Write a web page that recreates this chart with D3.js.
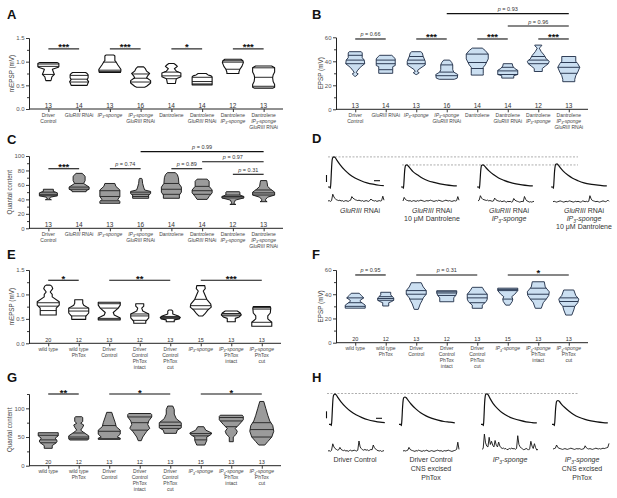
<!DOCTYPE html>
<html><head><meta charset="utf-8">
<script src="https://cdn.jsdelivr.net/npm/d3@7"></script>
<style>body{margin:0;background:#fff}svg{display:block}</style>
</head><body><svg id="c" width="617" height="498"></svg>
<script>
// ---------------- DATA ----------------
const topCats = [["Driver","Control"],["<i>GluRIII</i> RNAi"],["<i>IP<sub>3</sub>-sponge</i>"],["<i>IP<sub>3</sub>-sponge</i>","<i>GluRIII</i> RNAi"],["Dantrolene"],["Dantrolene","<i>GluRIII</i> RNAi"],["Dantrolene","<i>IP<sub>3</sub>-sponge</i>"],["Dantrolene","<i>IP<sub>3</sub>-sponge</i>","<i>GluRIII</i> RNAi"]];
const bottomCats = [["wild type"],["wild type","PhTox"],["Driver","Control"],["Driver","Control","PhTox","intact"],["Driver","Control","PhTox","cut"],["<i>IP<sub>3</sub>-sponge</i>"],["<i>IP<sub>3</sub>-sponge</i>","PhTox","intact"],["<i>IP<sub>3</sub>-sponge</i>","PhTox","cut"]];
const topCounts = [13,14,13,16,14,14,12,13];
const bottomCounts = [20,12,13,12,13,15,13,13];

// violin profiles: [value, relative half-width]
const aProfiles = [
 [[0.60,2.5],[0.63,3],[0.68,3.5],[0.73,6],[0.78,5],[0.84,4],[0.88,10],[0.90,10.5],[0.96,10.5],[0.98,9]],
 [[0.50,8],[0.53,8.5],[0.58,9.5],[0.62,8],[0.66,9],[0.72,9],[0.75,8],[0.77,6.5]],
 [[0.77,10.5],[0.80,11],[0.84,11],[0.93,8],[1.00,6],[1.02,5],[1.12,5],[1.14,4]],
 [[0.46,4],[0.48,6],[0.55,10],[0.60,10],[0.66,6],[0.70,7],[0.75,9],[0.80,6],[0.86,4.5],[0.89,3]],
 [[0.54,4],[0.60,4.5],[0.64,5],[0.68,9.5],[0.76,9.5],[0.80,5],[0.85,3],[0.90,6],[0.94,4],[0.96,2.5]],
 [[0.51,10],[0.53,10],[0.60,10],[0.68,10],[0.70,9],[0.72,6],[0.75,4]],
 [[0.75,6],[0.78,6],[0.84,7],[0.90,9],[0.98,10.5],[1.02,10],[1.05,8]],
 [[0.44,9],[0.46,11],[0.52,11],[0.58,9.5],[0.66,9],[0.72,9.5],[0.78,11],[0.87,11],[0.91,8]]
];
const aQuartiles = [[0.73,0.90,0.95],[0.57,0.63,0.71],[0.79,0.82,0.99],[0.57,0.65,0.74],[0.64,0.70,0.78],[0.53,0.58,0.67],[0.84,0.99,1.02],[0.48,0.67,0.87]];
const aSig = [[0,1,"***",1.27],[2,3,"***",1.27],[4,5,"*",1.27],[6,7,"***",1.27]];

const bProfiles = [
 [[27.5,0.5],[29.5,3],[30.5,1],[32,2],[35,5],[38,9.5],[41,9],[43,7],[47,7],[48,6]],
 [[30,7],[33,7],[35.5,7],[36.5,9.5],[42,9.5],[44,7.5],[45,6]],
 [[29,0.5],[30.5,3],[31.5,1],[33,2],[37,9],[40,9],[44,7],[47,6],[48,4.5]],
 [[25,7.5],[26,10.5],[29,11],[31,7],[33,6],[37,6],[39,5],[41,3]],
 [[28.5,6],[30,6],[35,6],[37,8],[42,11],[46,11],[49,8],[51,5]],
 [[26,6],[28,6],[29,10],[32.5,10],[34,7],[36,5],[38,4.5]],
 [[31.5,4],[34,4],[36,7],[38,10],[40,11],[42,8],[45,6],[48,3],[51,1],[53,3.5],[53.5,3.5]],
 [[23,6],[25,6],[28,7],[31,9],[35,11],[38,9],[40,7],[44,7]]
];
const bQuartiles = [[38,41,45],[33,38,41],[38,41,44],[28,31,37],[34,39,46],[29,32,35],[38,41,44],[30,35,39]];
const bSig = [[0,1,"p = 0.66",58.6],[2,3,"***",58.6],[4,5,"***",58.6],[6,7,"***",58.6],[5,7,"p = 0.96",69.4],[3,7,"p = 0.93",79.7]];

const cProfiles = [
 [[39.5,3],[41,1],[43,2],[45,9],[49,9],[51,5],[54,5]],
 [[50.6,7],[52,7],[54,10],[57,10],[62,4.5],[66,6],[72,6],[76,3]],
 [[34.6,10],[37,10],[40,8],[44,10],[53,10],[58,6],[62,5]],
 [[41.5,8],[46,8],[48,10],[51,10],[53,4],[57,3],[62,2],[68,1.5],[69,1]],
 [[41.5,8],[46,8],[50,10],[57,10],[62,7.5],[70,7],[74,6],[77,4]],
 [[40,5],[44,7],[49,10],[53,10],[58,7],[65,7],[68,5]],
 [[33,3],[34,1],[36,1.5],[39,2.5],[42,11],[44,11],[46,7],[50,7],[50.6,6.5]],
 [[36.8,3.5],[38,2],[40,2],[43,4],[46,11],[50,11],[54,7],[58,4],[63,3.5],[66,3]]
];
const cQuartiles = [[45,47,50],[54,57,62],[38,44,52],[44,47,50],[47,54,62],[47,52,58],[42,44,46],[46,49,53]];
const cSig = [[0,1,"***",82.4],[2,3,"p = 0.74",82.4],[4,5,"p = 0.89",82.4],[6,7,"p = 0.31",74.7],[5,7,"p = 0.97",92],[3,7,"p = 0.99",106]];

const eProfiles = [
 [[0.58,8],[0.60,8],[0.72,8],[0.78,11],[0.85,11],[0.95,4],[1.00,4],[1.05,2],[1.12,4.5],[1.17,3.5],[1.19,2]],
 [[0.49,7],[0.55,7],[0.62,10],[0.72,10],[0.78,5],[0.82,4],[0.89,4]],
 [[0.48,11],[0.52,11],[0.58,5],[0.63,4],[0.72,9],[0.78,11],[0.84,11]],
 [[0.41,6],[0.45,6],[0.52,9],[0.60,9],[0.66,3],[0.72,2],[0.76,4],[0.81,4]],
 [[0.44,4],[0.48,4],[0.50,9],[0.53,10],[0.56,8],[0.60,2.5],[0.66,2.5],[0.68,1.5]],
 [[0.56,2],[0.60,4],[0.68,7],[0.74,10.5],[0.80,10],[0.90,6],[1.00,4],[1.07,2.5],[1.12,4.5],[1.18,4]],
 [[0.44,4],[0.51,4],[0.54,8],[0.58,10],[0.62,9],[0.66,6]],
 [[0.35,10],[0.43,10],[0.50,6],[0.56,6],[0.62,8.5],[0.72,9],[0.75,8.5]]
];
const eQuartiles = [[0.67,0.76,0.83],[0.56,0.66,0.72],[0.51,0.72,0.81],[0.47,0.56,0.60],[0.51,0.53,0.55],[0.70,0.77,0.90],[0.56,0.58,0.61],[0.43,0.70,0.73]];
const eSig = [[0,1,"*",1.29],[2,4,"**",1.29],[5,7,"***",1.29]];

const fProfiles = [
 [[28.5,10],[31,10],[34,5],[35,5],[37,8.5],[39,6],[40.8,4]],
 [[30.3,3],[33,3],[34,6],[35,8],[37,8],[38.5,6],[39.5,5],[41.6,5]],
 [[27.5,2],[32,4],[35,6],[37,7],[40,10],[43,10],[46,7],[49.5,5]],
 [[33.8,7],[37,7],[39,9],[41,10],[42.9,10]],
 [[28.4,5],[31,5],[34,9],[36,10],[40,10],[43,7],[45.7,5]],
 [[31,2],[34,4.5],[36,5],[38,4],[40,7],[43,10],[45,10]],
 [[28.4,3],[33,5],[36,8],[39,10.5],[42,11],[46,7],[50.3,6]],
 [[22.8,3],[27,5],[30,6],[33,9],[36,10],[39,7],[43.5,5]]
];
const fQuartiles = [[30,33,37],[35,36.5,38],[36,40,43],[39,41,42],[33,37,40],[36,43,44],[36,40,45],[30,34,37]];
const fSig = [[0,1,"p = 0.95",55.9],[2,4,"p = 0.31",55.9],[5,7,"*",55.9]];

const gProfiles = [
 [[30.3,4],[35,4],[40,8],[43,9],[48,7],[52,10],[57.5,10]],
 [[44.8,9],[47,10],[52,10],[58,5],[62,2],[67,4],[71,5],[74,2],[77,4],[84,4],[85.4,3]],
 [[46,11],[48,11],[50,8],[55,11],[62,11],[68,7],[75,6],[85,4],[93,2.5]],
 [[43.6,1.5],[50,3],[60,7],[65,10],[72,8],[78,9],[85,12],[89,12],[91,11]],
 [[56.4,6],[62,7],[66,11],[75,11],[82,6],[90,4],[98,4],[104,2.5]],
 [[36,4],[44,6],[50,6],[54,10],[57,11],[62,5],[68,3]],
 [[41.8,2],[50,2],[55,5],[60,6],[65,4],[72,8],[80,12],[86,12],[88,11]],
 [[36,3],[42,6],[50,10],[60,12],[70,11],[78,8],[88,6],[100,4],[112,2]]
];
const gQuartiles = [[40,45,53],[47,50,57],[47,60,70],[62,75,85],[65,70,76],[45,52,56],[68,78,84],[50,63,75]];
const gSig = [[0,1,"**",125],[2,4,"*",125],[5,7,"*",125]];

// traces (EPSP in mV vs time in ms)
const epspTimes = [0,3,4,5,6,7,8,10,12,15,20,28,36,45,55,65,75,85,93];
const dEpsp = [
 [0,0,-2,10,28,39,42,43,42,38,32,24,18,13,9,6,4,2.5,2],
 [0,0,-2,8,22,29,31,31.5,30,27,22,17,12.5,9,6.5,4.5,3,2,1.5],
 [0,0,-2,8,21,29,31,31.5,30.5,27.5,23,17.5,13,9.5,6.5,4.5,3,2,1.5],
 [0,0,-2,9,23,30,32.5,33,31.5,28,23,17,12.5,9,6,4,3,2,1.5]
];
const hEpsp = [
 [0,0,-2,10,28,39,42,43,42,38,32,24.5,18.5,13.5,9.5,6.5,4.5,3,2.5],
 [0,0,-2,9,25,35,38,39,38,34.5,29,22,16.5,12,8.5,6,4,3,2],
 [0,0,-2,11,30,40,43,43.5,42,37,30,22,16,11.5,8,5.5,3.5,2.5,2],
 [0,0,-2,8,22,30,33,34,33,29.5,25,19,14,10,7,5,3.5,2.5,2]
];
const dLevels = [43, 31.5];
const hLevels = [44];
// spontaneous minis (mV, 48 samples each)
const dMinis = [
 [0,0.05,-0.05,0.05,0.85,0.5,0.3,0.15,0.1,0.05,0.1,0,0.05,-0.05,0,0.05,0,-0.05,0.05,0.1,0.55,0.35,0.25,0.15,0.1,0.05,0.1,0.05,0,0.05,-0.05,0,0.05,0,-0.05,0.05,0.25,0.1,0.05,0,0.05,-0.05,0,0.05,0,0.05,0.6,0.1],
 [0,0.45,0.2,0.1,0.05,0,0.05,-0.05,0,0.05,0,-0.05,0.05,0,0.05,0.1,0.05,0,-0.05,0,0.05,0,0.05,0.1,0.05,0,-0.05,0,0.05,0,0.1,0.05,0,-0.05,0,0.05,0.1,0.05,0,0.05,0,-0.05,0,0.05,0,0.05,0.55,0.1],
 [0.1,0.2,0.75,0.45,0.3,0.25,0.2,0.15,0.2,0.1,0.15,0.1,0.05,0.1,0.45,0.25,0.15,0.1,0.05,0.1,0,0.05,0.1,0,-0.05,0.05,0,0.05,-0.05,0,0.4,0.2,0.1,0.05,0,-0.05,0,0.05,0,0.65,0.3,0.1,0.05,-0.05,0,-0.05,0,0.05],
 [0,0.05,0,-0.05,0,0.05,0.1,0.05,0,-0.05,0,0.05,0,0.05,0.1,0.05,0,-0.05,0,0.05,0,0.05,0,-0.05,0,0.1,0.05,0,0.05,0,0.05,0.75,0.35,0.15,0.1,0.05,0,0.05,0,-0.05,0,0.05,0.1,0.05,0,0.05,0.2,0.05]
];
const hMinis = [
 [0,0.05,-0.05,0.1,0.9,0.5,0.3,0.2,0.1,0.15,0.45,0.2,0.1,0.05,0.1,0,0.05,-0.05,0.05,0.1,0,0.05,0.1,0.05,0,0.1,1.25,0.5,0.3,0.15,0.1,0.2,0.1,0.15,0.05,0.1,0.2,0.15,0.75,0.4,0.25,0.1,0.05,0,0.05,-0.05,0,0.05],
 [0,0.05,0,0.05,0.1,0.45,0.2,0.1,0.05,0,-0.05,0.05,0,0.1,0.05,0,-0.05,0.05,0,0.05,0.1,0,-0.05,0,0.05,0,-0.05,0,0.05,0.1,0.05,0,0.05,-0.05,0,0.05,0,0.05,0.1,0.05,0,-0.05,0,0.05,0.1,0.2,1.1,0.2],
 [0,0.1,1.9,0.8,0.4,0.3,1.5,0.6,1.0,0.5,0.3,1.1,0.5,0.3,0.9,0.4,0.2,0.1,0.15,0.05,0.1,-0.05,0,0.1,0.05,0.15,0.05,0.1,0,0.1,1.7,0.6,0.3,0.15,0.05,-0.05,0,0.1,0.05,-0.1,0.05,1.0,0.4,0.1,0.7,0.2,-0.1,0],
 [0,0.05,0.1,0.5,0.2,0.1,0.05,0,-0.05,0,0.05,0,-0.05,0,0.05,0.1,0.05,0,-0.05,0,0.05,0,0.05,0,-0.05,0,0.05,0.4,0.15,0.05,0,0.05,0,-0.05,0,0.05,0.1,0.05,0,0.05,0,0.05,0.1,0.05,0.1,0.15,0.2,0.7]
];
const dLabels = [["<i>GluRIII</i> RNAi"],["<i>GluRIII</i> RNAi","10 μM Dantrolene"],["<i>GluRIII</i> RNAi","<i>IP<sub>3</sub>-sponge</i>"],["<i>GluRIII</i> RNAi","<i>IP<sub>3</sub>-sponge</i>","10 μM Dantrolene"]];
const hLabels = [["Driver Control"],["Driver Control","CNS excised","PhTox"],["<i>IP<sub>3</sub>-sponge</i>"],["<i>IP<sub>3</sub>-sponge</i>","CNS excised","PhTox"]];

// ---------------- DRAWING ----------------
const FONT = "'Liberation Sans', Arial, Helvetica, sans-serif";
const svg = d3.select('#c').style('font-family', FONT);

function rich(sel, str, fs){
  const parts = str.split(/(<\/?i>|<\/?sub>)/);
  let it=false, sub=false, shifted=false;
  parts.forEach(p=>{
    if(p==='<i>'){it=true;return;} if(p==='</i>'){it=false;return;}
    if(p==='<sub>'){sub=true;return;} if(p==='</sub>'){sub=false;return;}
    if(!p) return;
    const t = sel.append('tspan').text(p);
    if(it) t.attr('font-style','italic');
    if(sub){ t.attr('font-size', fs*0.7).attr('dy', fs*0.3); shifted=true; }
    else if(shifted){ t.attr('dy', -fs*0.3); shifted=false; }
  });
}

function letter(t, x, y){
  svg.append('text').attr('x',x).attr('y',y).text(t)
    .attr('font-size',13).attr('font-weight','bold').attr('fill','#111');
}

function violinPanel(o){
  const g = svg.append('g');
  const n = o.profiles.length;
  const x = d3.scalePoint().domain(d3.range(n)).range([o.L,o.R]).padding(0.63);
  const y = d3.scaleLinear().domain(o.domain).range([o.B,o.T]);
  const w = d3.scaleLinear().domain([0,12]).range([0,12]);

  // axes
  const ya = d3.axisLeft(y).tickValues(o.ticks).tickFormat(o.fmt).tickSize(3).tickSizeOuter(0).tickPadding(1.5);
  const yg = g.append('g').attr('transform',`translate(${o.L},0)`).call(ya);
  const ym = g.append('g').attr('transform',`translate(${o.L},0)`).call(d3.axisLeft(y).tickValues(o.minor).tickFormat('').tickSize(2).tickSizeOuter(0));
  const xg = g.append('g').attr('transform',`translate(0,${o.B})`).call(d3.axisBottom(x).tickFormat('').tickSize(3).tickSizeOuter(0));
  [yg,ym,xg].forEach(a=>{ a.selectAll('path,line').attr('stroke','#222').attr('stroke-width',0.9); a.select('.domain').attr('stroke-width',1); });
  yg.selectAll('text').attr('font-size',6).attr('fill','#555').attr('font-family',FONT);
  xg.select('.domain').attr('d',`M${o.L},0H${o.R}`);

  // y label
  g.append('text').attr('transform',`translate(${o.ylx},${(o.T+o.B)/2}) rotate(-90)`)
    .attr('text-anchor','middle').attr('font-size',6.3).attr('fill','#444').text(o.ylabel);

  // violins
  o.profiles.forEach((prof,i)=>{
    const cx = x(i);
    const area = d3.area().y(d=>y(d[0])).x0(d=>cx-w(d[1])).x1(d=>cx+w(d[1])).curve(d3.curveLinear);
    g.append('path').attr('d',area(prof)).attr('fill',o.fill).attr('stroke',o.stroke)
      .attr('stroke-width',o.sw).attr('stroke-linejoin','round');
    const hw = d3.scaleLinear().domain(prof.map(d=>d[0])).range(prof.map(d=>d[1])).clamp(true);
    o.quart[i].forEach(q=>{
      g.append('line').attr('x1',cx-w(hw(q))).attr('x2',cx+w(hw(q))).attr('y1',y(q)).attr('y2',y(q))
        .attr('stroke',o.qstroke).attr('stroke-width',o.qsw);
    });
  });

  // counts
  o.counts.forEach((c,i)=>{
    g.append('text').attr('x',x(i)).attr('y',o.B-1.5).attr('text-anchor','middle')
      .attr('font-size',o.cfs).attr('fill','#333').text(c);
  });

  // category labels
  o.cats.forEach((lines,i)=>{
    lines.forEach((ln,j)=>{
      const t = g.append('text').attr('x',x(i)).attr('y',o.B+7.5+j*6).attr('text-anchor','middle')
        .attr('font-size',5).attr('fill','#444');
      rich(t, ln, 5);
    });
  });

  // significance
  o.sig.forEach(s=>{
    const x1=x(s[0]), x2=x(s[1]), yy=y(s[3]);
    g.append('line').attr('x1',x1).attr('x2',x2).attr('y1',yy).attr('y2',yy).attr('stroke','#111').attr('stroke-width',1.1);
    const mid=(x1+x2)/2;
    if(s[2].startsWith('p')){
      const t=g.append('text').attr('x',mid).attr('y',yy-2.5).attr('text-anchor','middle').attr('font-size',5.5).attr('fill','#333');
      t.append('tspan').attr('font-style','italic').text('p');
      t.append('tspan').text(s[2].slice(1));
    } else {
      g.append('text').attr('x',mid).attr('y',yy+1.5).attr('text-anchor','middle').attr('font-size',9.5)
        .attr('font-weight','bold').attr('fill','#111').text(s[2]);
    }
  });
}

const whiteStyle = {fill:'#ffffff', stroke:'#111', sw:1.1, qstroke:'#111', qsw:0.9};
const blueStyle = {fill:'#cbdff1', stroke:'#1c2a44', sw:0.9, qstroke:'#1c2a44', qsw:0.9};
const grayStyle = {fill:'#9b9b9b', stroke:'#111', sw:0.9, qstroke:'#222', qsw:0.9};

violinPanel(Object.assign({L:29,R:283,T:38,B:109,domain:[0,1.5],ticks:[0,0.5,1,1.5],minor:[0.25,0.75,1.25],fmt:d3.format('.1f'),
  ylx:14,ylabel:'mEPSP  (mV)',profiles:aProfiles,quart:aQuartiles,counts:topCounts,cats:topCats,sig:aSig,cfs:6.5}, whiteStyle));
violinPanel(Object.assign({L:336,R:588,T:37.3,B:109.3,domain:[0,60],ticks:[0,20,40,60],minor:[10,30,50],fmt:d3.format('d'),
  ylx:323,ylabel:'EPSP  (mV)',profiles:bProfiles,quart:bQuartiles,counts:topCounts,cats:topCats,sig:bSig,cfs:6.5}, blueStyle));
violinPanel(Object.assign({L:29,R:283,T:156,B:228.3,domain:[0,100],ticks:[0,20,40,60,80,100],minor:[10,30,50,70,90],fmt:d3.format('d'),
  ylx:12,ylabel:'Quantal content',profiles:cProfiles,quart:cQuartiles,counts:topCounts,cats:topCats,sig:cSig,cfs:6.5}, grayStyle));
violinPanel(Object.assign({L:29,R:281,T:270,B:343.3,domain:[0,1.5],ticks:[0,0.5,1,1.5],minor:[0.25,0.75,1.25],fmt:d3.format('.1f'),
  ylx:14,ylabel:'mEPSP  (mV)',profiles:eProfiles,quart:eQuartiles,counts:bottomCounts,cats:bottomCats,sig:eSig,cfs:5.5}, whiteStyle));
violinPanel(Object.assign({L:336,R:588,T:270,B:342.7,domain:[0,60],ticks:[0,20,40,60],minor:[10,30,50],fmt:d3.format('d'),
  ylx:323,ylabel:'EPSP  (mV)',profiles:fProfiles,quart:fQuartiles,counts:bottomCounts,cats:bottomCats,sig:fSig,cfs:5.5}, blueStyle));
violinPanel(Object.assign({L:29,R:281,T:394,B:465.7,domain:[0,125],ticks:[0,50,100],minor:[25,75,125],fmt:d3.format('d'),
  ylx:12,ylabel:'Quantal content',profiles:gProfiles,quart:gQuartiles,counts:bottomCounts,cats:bottomCats,sig:gSig,cfs:5.5}, grayStyle));

function tracePanel(o){
  const g = svg.append('g');
  const tx = d3.scaleLinear().domain([0,93]).range([0,55.8]);
  const ty = d3.scaleLinear().domain([0,10]).range([0,-7]);
  const mx = d3.scaleLinear().domain([0,47]).range([0,56]);
  const my = d3.scaleLinear().domain([0,1]).range([0,-8]);
  o.levels.forEach((lv,k)=>{
    g.append('line').attr('x1',o.levelX[k]).attr('x2',o.levelEnd).attr('y1',o.base+ty(lv)).attr('y2',o.base+ty(lv))
      .attr('stroke','#999').attr('stroke-width',0.8).attr('stroke-dasharray','2,1.5');
  });
  const line = d3.line().x((d,i)=>tx(epspTimes[i])).y(d=>ty(d)).curve(d3.curveMonotoneX);
  o.epsp.forEach((tr,i)=>{
    g.append('path').attr('transform',`translate(${o.starts[i]},${o.base})`).attr('d',line(tr))
      .attr('fill','none').attr('stroke','#111').attr('stroke-width',1.2);
  });
  const mline = d3.line().x((d,i)=>mx(i)).y(d=>my(d));
  o.minis.forEach((tr,i)=>{
    g.append('path').attr('transform',`translate(${o.mStarts[i]},${o.mBase[i]})`).attr('d',mline(tr))
      .attr('fill','none').attr('stroke','#111').attr('stroke-width',0.9).attr('stroke-linejoin','round');
  });
  g.append('line').attr('x1',o.sbv[0]).attr('x2',o.sbv[0]).attr('y1',o.sbv[1]).attr('y2',o.sbv[1]+ty(10)).attr('stroke','#111').attr('stroke-width',1.1);
  g.append('line').attr('x1',o.sbh[0]).attr('x2',o.sbh[0]+tx(10)).attr('y1',o.sbh[1]).attr('y2',o.sbh[1]).attr('stroke','#111').attr('stroke-width',1.1);
  o.labels.forEach((lines,i)=>{
    lines.forEach((ln,j)=>{
      const t=g.append('text').attr('x',o.lx[i]).attr('y',o.ly+j*o.lsp).attr('text-anchor','middle')
        .attr('font-size',7).attr('fill','#333');
      rich(t, ln, 7);
    });
  });
}

tracePanel({base:187, starts:[328,401,477,551], epsp:dEpsp, levels:dLevels, levelX:[328,402], levelEnd:578,
  minis:dMinis, mStarts:[328,403,478,553], mBase:[201,201,201.7,201.7],
  sbv:[326.5,182], sbh:[374,180.7], labels:dLabels, lx:[360,432,509,584], ly:213, lsp:8});
tracePanel({base:424.3, starts:[329,399,481,552], epsp:hEpsp, levels:hLevels, levelX:[327], levelEnd:578,
  minis:hMinis, mStarts:[328,403,482,553], mBase:[451,451,449.3,449],
  sbv:[326.5,418.3], sbh:[376,418.3], labels:hLabels, lx:[355,431,510,582], ly:462, lsp:9});

letter('A',7,18.5); letter('B',312,18.5);
letter('C',7,144); letter('D',312,143.3);
letter('E',7,259.3); letter('F',312,259.3);
letter('G',7,381.7); letter('H',312,381.7);
</script></body></html>
